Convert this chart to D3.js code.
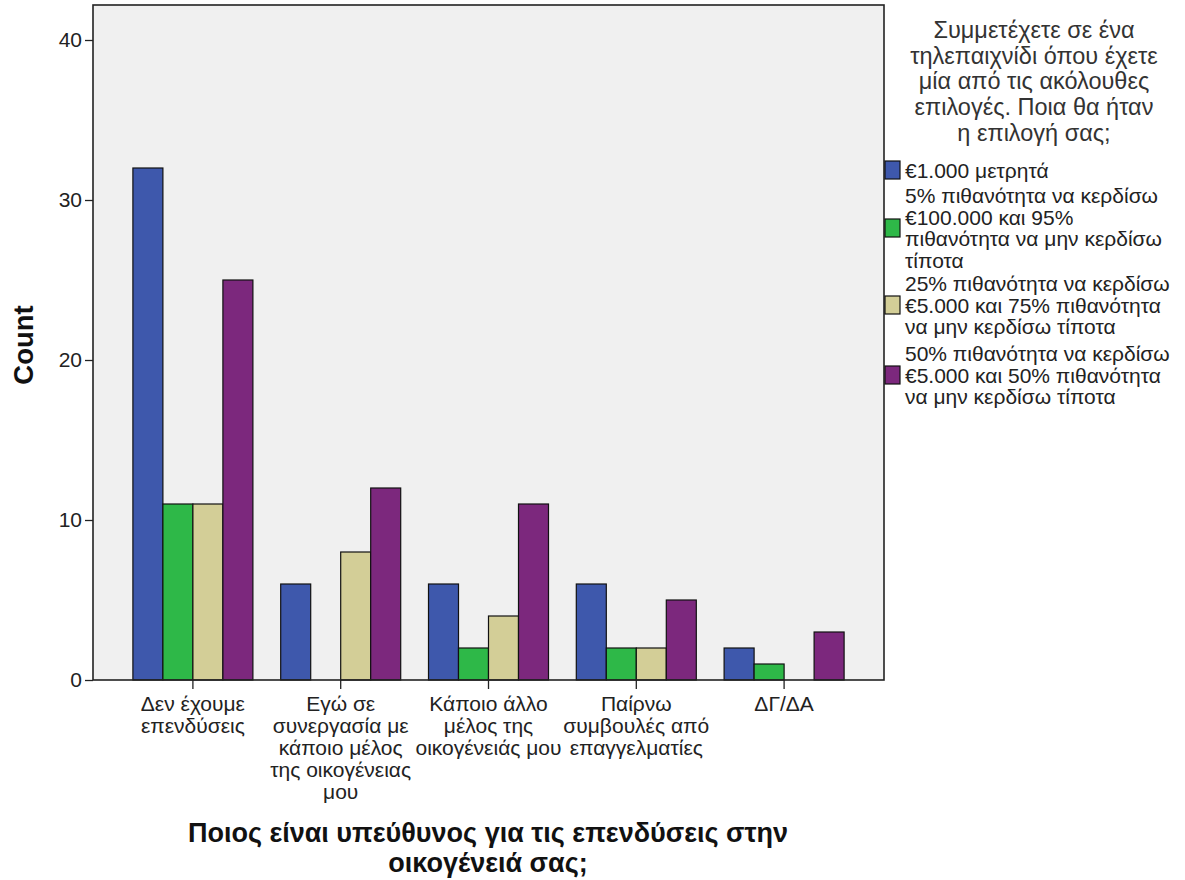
<!DOCTYPE html>
<html><head><meta charset="utf-8">
<script src="https://cdn.jsdelivr.net/npm/d3@7"></script>
<style>body{margin:0;background:#fff}svg{display:block}text{font-family:"Liberation Sans",Arial,sans-serif}</style>
</head><body>
<script>
const categories = [
  ["Δεν έχουμε","επενδύσεις"],
  ["Εγώ σε","συνεργασία με","κάποιο μέλος","της οικογένειας","μου"],
  ["Κάποιο άλλο","μέλος της","οικογένειάς μου"],
  ["Παίρνω","συμβουλές από","επαγγελματίες"],
  ["ΔΓ/ΔΑ"]
];
const seriesNames = ["s1","s2","s3","s4"];
const seriesColors = ["#3E58AC","#2EB848","#D3CE97","#7C287D"];
const values = [
  [32, 11, 11, 25],
  [6, 0, 8, 12],
  [6, 2, 4, 11],
  [6, 2, 2, 5],
  [2, 1, 0, 3]
];
const yTicks = [0,10,20,30,40];
const legendTitle = ["Συμμετέχετε σε ένα","τηλεπαιχνίδι όπου έχετε","μία από τις ακόλουθες","επιλογές. Ποια θα ήταν","η επιλογή σας;"];
const legendLabels = [
  ["€1.000 μετρητά"],
  ["5% πιθανότητα να κερδίσω","€100.000 και 95%","πιθανότητα να μην κερδίσω","τίποτα"],
  ["25% πιθανότητα να κερδίσω","€5.000 και 75% πιθανότητα","να μην κερδίσω τίποτα"],
  ["50% πιθανότητα να κερδίσω","€5.000 και 50% πιθανότητα","να μην κερδίσω τίποτα"]
];
const xTitle = ["Ποιος είναι υπεύθυνος για τις επενδύσεις στην","οικογένειά σας;"];
const yTitle = "Count";

const W = 1185, H = 880;
const L = 93, R = 884, T = 5, B = 680;
const svg = d3.select("body").append("svg").attr("width", W).attr("height", H);

const x = d3.scaleBand().domain(d3.range(categories.length)).range([L + 26, R - 26]).paddingInner(0).paddingOuter(0);
const y = d3.scaleLinear().domain([0, 40]).range([B, 40]);
const barW = 30;
const xs = d3.scaleBand().domain(seriesNames).range([-2 * barW, 2 * barW]);

svg.append("rect").attr("x", L).attr("y", T).attr("width", R - L).attr("height", B - T).attr("fill", "#F0F0F0");

const g = svg.append("g");
values.forEach((row, ci) => {
  row.forEach((v, si) => {
    if (v <= 0) return;
    g.append("rect")
      .attr("x", x(ci) + x.bandwidth() / 2 + xs(seriesNames[si]))
      .attr("y", y(v))
      .attr("width", xs.bandwidth())
      .attr("height", y(0) - y(v))
      .attr("fill", seriesColors[si])
      .attr("stroke", "#111").attr("stroke-width", 1.2);
  });
});

svg.append("rect").attr("x", L).attr("y", T).attr("width", R - L).attr("height", B - T)
  .attr("fill", "none").attr("stroke", "#222").attr("stroke-width", 1.6);

// y axis
const yAxis = svg.append("g").attr("transform", `translate(${L},0)`)
  .call(d3.axisLeft(y).tickValues(yTicks).tickSize(8).tickPadding(3));
yAxis.select(".domain").remove();
yAxis.selectAll("line").attr("stroke", "#222").attr("stroke-width", 1.3);
yAxis.selectAll("text").attr("font-size", 21).attr("fill", "#222").attr("font-family", '"Liberation Sans",Arial,sans-serif');

// x axis ticks
categories.forEach((c, ci) => {
  const cx = x(ci) + x.bandwidth() / 2;
  svg.append("line").attr("x1", cx).attr("x2", cx).attr("y1", B).attr("y2", B + 9).attr("stroke", "#222").attr("stroke-width", 1.3);
  c.forEach((line, li) => {
    svg.append("text").attr("x", cx).attr("y", B + 31 + li * 22).attr("text-anchor", "middle")
      .attr("font-size", 21).attr("fill", "#222").text(line);
  });
});

// titles
svg.append("text").attr("transform", `translate(33,345) rotate(-90)`).attr("text-anchor", "middle")
  .attr("font-size", 27.5).attr("font-weight", "bold").attr("fill", "#111").text(yTitle);
xTitle.forEach((t, i) => {
  svg.append("text").attr("x", 488).attr("y", 842 + i * 30).attr("text-anchor", "middle")
    .attr("font-size", 27).attr("font-weight", "bold").attr("fill", "#111").text(t);
});

// legend
legendTitle.forEach((t, i) => {
  svg.append("text").attr("x", 1034).attr("y", 38 + i * 25.7).attr("text-anchor", "middle")
    .attr("font-size", 23.5).attr("fill", "#333").text(t);
});
const legY = [170, 228, 305, 375];
legendLabels.forEach((lines, si) => {
  const n = lines.length;
  const cy = legY[si];
  svg.append("rect").attr("x", 885).attr("y", cy - 9).attr("width", 15).attr("height", 18)
    .attr("fill", seriesColors[si]).attr("stroke", "#111").attr("stroke-width", 1.2);
  lines.forEach((t, li) => {
    const off = (li - (n - 1) / 2) * 21.7;
    svg.append("text").attr("x", 905).attr("y", cy + off + 7.5).attr("font-size", 21).attr("fill", "#222").text(t);
  });
});
</script>
</body></html>
